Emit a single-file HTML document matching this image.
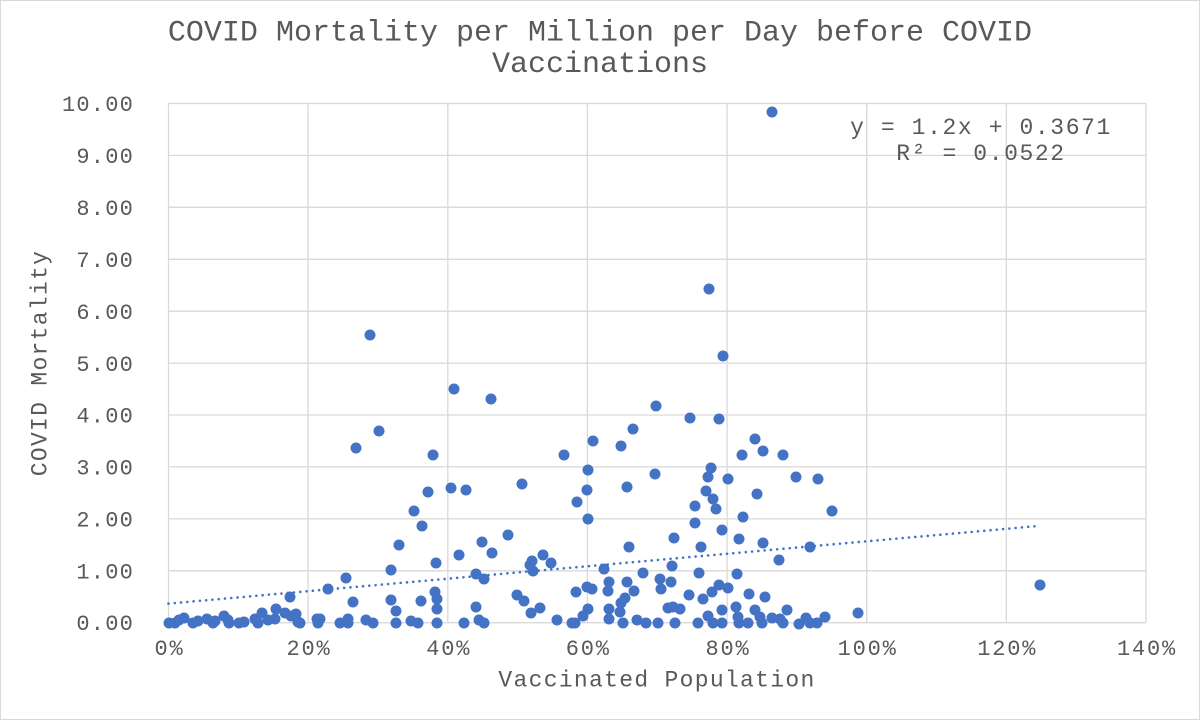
<!DOCTYPE html>
<html>
<head>
<meta charset="utf-8">
<style>
html,body{margin:0;padding:0;background:#fff;}
svg{display:block;}
text{font-family:"Liberation Mono","DejaVu Sans Mono",monospace;fill:#595959;}
</style>
</head>
<body>
<svg width="1200" height="720" viewBox="0 0 1200 720" xmlns="http://www.w3.org/2000/svg">
<rect x="0.5" y="0.5" width="1199" height="719" fill="#fff" stroke="#d9d9d9" stroke-width="1"/>
<!-- gridlines -->
<g stroke="#d9d9d9" stroke-width="1.3" fill="none">
<line x1="168.5" y1="103.5" x2="1146" y2="103.5"/>
<line x1="168.5" y1="155.4" x2="1146" y2="155.4"/>
<line x1="168.5" y1="207.3" x2="1146" y2="207.3"/>
<line x1="168.5" y1="259.3" x2="1146" y2="259.3"/>
<line x1="168.5" y1="311.2" x2="1146" y2="311.2"/>
<line x1="168.5" y1="363.1" x2="1146" y2="363.1"/>
<line x1="168.5" y1="415.0" x2="1146" y2="415.0"/>
<line x1="168.5" y1="466.9" x2="1146" y2="466.9"/>
<line x1="168.5" y1="518.9" x2="1146" y2="518.9"/>
<line x1="168.5" y1="570.8" x2="1146" y2="570.8"/>
<line x1="168.5" y1="622.7" x2="1146" y2="622.7"/>
<line x1="168.5" y1="103.5" x2="168.5" y2="622.7"/>
<line x1="308.1" y1="103.5" x2="308.1" y2="622.7"/>
<line x1="447.8" y1="103.5" x2="447.8" y2="622.7"/>
<line x1="587.4" y1="103.5" x2="587.4" y2="622.7"/>
<line x1="727.1" y1="103.5" x2="727.1" y2="622.7"/>
<line x1="866.7" y1="103.5" x2="866.7" y2="622.7"/>
<line x1="1006.3" y1="103.5" x2="1006.3" y2="622.7"/>
<line x1="1146" y1="103.5" x2="1146" y2="622.7"/>
</g>
<!-- title -->
<text x="600" y="40.5" font-size="30" text-anchor="middle">COVID Mortality per Million per Day before COVID</text>
<text x="600" y="72" font-size="30" text-anchor="middle">Vaccinations</text>
<!-- y ticks -->
<g font-size="22" letter-spacing="1.2" text-anchor="end">
<text x="134" y="111">10.00</text>
<text x="134" y="163">9.00</text>
<text x="134" y="215">8.00</text>
<text x="134" y="267">7.00</text>
<text x="134" y="319">6.00</text>
<text x="134" y="371">5.00</text>
<text x="134" y="422.5">4.00</text>
<text x="134" y="474.5">3.00</text>
<text x="134" y="526.5">2.00</text>
<text x="134" y="578.5">1.00</text>
<text x="134" y="630">0.00</text>
</g>
<!-- x ticks -->
<g font-size="22" letter-spacing="1.8" text-anchor="middle">
<text x="169.5" y="655">0%</text>
<text x="309" y="655">20%</text>
<text x="448.7" y="655">40%</text>
<text x="588.3" y="655">60%</text>
<text x="728" y="655">80%</text>
<text x="867.6" y="655">100%</text>
<text x="1007.2" y="655">120%</text>
<text x="1147" y="655">140%</text>
</g>
<!-- axis titles -->
<text x="657" y="686.5" font-size="23" letter-spacing="1.3" text-anchor="middle">Vaccinated Population</text>
<text transform="translate(46.5,363) rotate(-90)" x="0" y="0" font-size="23" letter-spacing="1.3" text-anchor="middle">COVID Mortality</text>
<!-- equation -->
<text x="981" y="134" font-size="23" letter-spacing="1.6" text-anchor="middle">y = 1.2x + 0.3671</text>
<text x="981" y="160" font-size="23" letter-spacing="1.6" text-anchor="middle">R² = 0.0522</text>
<!-- points -->
<g fill="#4472C4">
<circle cx="169" cy="623" r="5.5"/><circle cx="175" cy="623" r="5.5"/><circle cx="179" cy="620" r="5.5"/><circle cx="184" cy="618" r="5.5"/>
<circle cx="193" cy="623" r="5.5"/><circle cx="198" cy="621" r="5.5"/><circle cx="207" cy="619" r="5.5"/><circle cx="213" cy="623" r="5.5"/>
<circle cx="215" cy="621" r="5.5"/><circle cx="224" cy="616" r="5.5"/><circle cx="228" cy="620" r="5.5"/><circle cx="229" cy="623" r="5.5"/>
<circle cx="239" cy="623" r="5.5"/><circle cx="244" cy="622" r="5.5"/><circle cx="255" cy="619" r="5.5"/><circle cx="258" cy="623" r="5.5"/>
<circle cx="262" cy="613" r="5.5"/><circle cx="268" cy="620" r="5.5"/><circle cx="275" cy="619" r="5.5"/><circle cx="276" cy="609" r="5.5"/>
<circle cx="285" cy="613" r="5.5"/><circle cx="290" cy="597" r="5.5"/><circle cx="291" cy="616" r="5.5"/><circle cx="296" cy="614" r="5.5"/>
<circle cx="298" cy="622" r="5.5"/><circle cx="300" cy="623" r="5.5"/><circle cx="317" cy="619" r="5.5"/><circle cx="320" cy="619" r="5.5"/>
<circle cx="318" cy="623" r="5.5"/><circle cx="328" cy="589" r="5.5"/><circle cx="340" cy="623" r="5.5"/><circle cx="346" cy="578" r="5.5"/>
<circle cx="348" cy="619" r="5.5"/><circle cx="348" cy="623" r="5.5"/><circle cx="353" cy="602" r="5.5"/><circle cx="366" cy="620" r="5.5"/>
<circle cx="373" cy="623" r="5.5"/><circle cx="391" cy="570" r="5.5"/><circle cx="391" cy="600" r="5.5"/><circle cx="396" cy="611" r="5.5"/>
<circle cx="396" cy="623" r="5.5"/><circle cx="399" cy="545" r="5.5"/><circle cx="411" cy="621" r="5.5"/><circle cx="418" cy="623" r="5.5"/>
<circle cx="421" cy="601" r="5.5"/><circle cx="422" cy="526" r="5.5"/><circle cx="436" cy="563" r="5.5"/><circle cx="435" cy="592" r="5.5"/>
<circle cx="437" cy="599" r="5.5"/><circle cx="437" cy="609" r="5.5"/><circle cx="437" cy="623" r="5.5"/><circle cx="459" cy="555" r="5.5"/>
<circle cx="464" cy="623" r="5.5"/><circle cx="476" cy="607" r="5.5"/><circle cx="476" cy="574" r="5.5"/><circle cx="482" cy="542" r="5.5"/>
<circle cx="484" cy="579" r="5.5"/><circle cx="479" cy="620" r="5.5"/><circle cx="484" cy="623" r="5.5"/><circle cx="492" cy="553" r="5.5"/>
<circle cx="370" cy="335" r="5.5"/><circle cx="454" cy="389" r="5.5"/><circle cx="491" cy="399" r="5.5"/><circle cx="379" cy="431" r="5.5"/>
<circle cx="356" cy="448" r="5.5"/><circle cx="433" cy="455" r="5.5"/><circle cx="428" cy="492" r="5.5"/><circle cx="451" cy="488" r="5.5"/>
<circle cx="466" cy="490" r="5.5"/><circle cx="522" cy="484" r="5.5"/><circle cx="414" cy="511" r="5.5"/><circle cx="508" cy="535" r="5.5"/>
<circle cx="517" cy="595" r="5.5"/><circle cx="524" cy="601" r="5.5"/><circle cx="531" cy="613" r="5.5"/><circle cx="540" cy="608" r="5.5"/>
<circle cx="530" cy="565" r="5.5"/><circle cx="532" cy="561" r="5.5"/><circle cx="533" cy="571" r="5.5"/><circle cx="543" cy="555" r="5.5"/>
<circle cx="551" cy="563" r="5.5"/>
<circle cx="656" cy="406" r="5.5"/><circle cx="690" cy="418" r="5.5"/><circle cx="719" cy="419" r="5.5"/><circle cx="633" cy="429" r="5.5"/>
<circle cx="593" cy="441" r="5.5"/><circle cx="621" cy="446" r="5.5"/><circle cx="564" cy="455" r="5.5"/><circle cx="755" cy="439" r="5.5"/>
<circle cx="763" cy="451" r="5.5"/><circle cx="742" cy="455" r="5.5"/><circle cx="783" cy="455" r="5.5"/><circle cx="588" cy="470" r="5.5"/>
<circle cx="711" cy="468" r="5.5"/><circle cx="708" cy="477" r="5.5"/><circle cx="728" cy="479" r="5.5"/><circle cx="655" cy="474" r="5.5"/>
<circle cx="587" cy="490" r="5.5"/><circle cx="627" cy="487" r="5.5"/><circle cx="577" cy="502" r="5.5"/><circle cx="706" cy="491" r="5.5"/>
<circle cx="713" cy="499" r="5.5"/><circle cx="716" cy="509" r="5.5"/><circle cx="757" cy="494" r="5.5"/><circle cx="695" cy="506" r="5.5"/>
<circle cx="588" cy="519" r="5.5"/><circle cx="695" cy="523" r="5.5"/><circle cx="743" cy="517" r="5.5"/><circle cx="722" cy="530" r="5.5"/>
<circle cx="739" cy="539" r="5.5"/><circle cx="701" cy="547" r="5.5"/><circle cx="763" cy="543" r="5.5"/><circle cx="674" cy="538" r="5.5"/>
<circle cx="629" cy="547" r="5.5"/><circle cx="779" cy="560" r="5.5"/><circle cx="604" cy="569" r="5.5"/><circle cx="672" cy="566" r="5.5"/>
<circle cx="643" cy="573" r="5.5"/><circle cx="699" cy="573" r="5.5"/><circle cx="737" cy="574" r="5.5"/><circle cx="609" cy="582" r="5.5"/>
<circle cx="608" cy="591" r="5.5"/><circle cx="627" cy="582" r="5.5"/><circle cx="634" cy="591" r="5.5"/><circle cx="660" cy="579" r="5.5"/>
<circle cx="661" cy="589" r="5.5"/><circle cx="671" cy="582" r="5.5"/><circle cx="587" cy="587" r="5.5"/><circle cx="592" cy="589" r="5.5"/>
<circle cx="576" cy="592" r="5.5"/><circle cx="689" cy="595" r="5.5"/><circle cx="703" cy="599" r="5.5"/><circle cx="712" cy="592" r="5.5"/>
<circle cx="719" cy="585" r="5.5"/><circle cx="728" cy="588" r="5.5"/><circle cx="749" cy="594" r="5.5"/><circle cx="765" cy="597" r="5.5"/>
<circle cx="621" cy="603" r="5.5"/><circle cx="625" cy="598" r="5.5"/><circle cx="609" cy="609" r="5.5"/><circle cx="620" cy="612" r="5.5"/>
<circle cx="588" cy="609" r="5.5"/><circle cx="583" cy="616" r="5.5"/><circle cx="668" cy="608" r="5.5"/><circle cx="673" cy="607" r="5.5"/>
<circle cx="680" cy="609" r="5.5"/><circle cx="722" cy="610" r="5.5"/><circle cx="736" cy="607" r="5.5"/><circle cx="755" cy="610" r="5.5"/>
<circle cx="787" cy="610" r="5.5"/><circle cx="557" cy="620" r="5.5"/><circle cx="572" cy="623" r="5.5"/><circle cx="575" cy="623" r="5.5"/>
<circle cx="609" cy="619" r="5.5"/><circle cx="623" cy="623" r="5.5"/><circle cx="637" cy="620" r="5.5"/><circle cx="646" cy="623" r="5.5"/>
<circle cx="658" cy="623" r="5.5"/><circle cx="675" cy="623" r="5.5"/><circle cx="698" cy="623" r="5.5"/><circle cx="708" cy="616" r="5.5"/>
<circle cx="713" cy="623" r="5.5"/><circle cx="722" cy="623" r="5.5"/><circle cx="738" cy="617" r="5.5"/><circle cx="739" cy="623" r="5.5"/>
<circle cx="748" cy="623" r="5.5"/><circle cx="760" cy="617" r="5.5"/><circle cx="762" cy="623" r="5.5"/><circle cx="772" cy="618" r="5.5"/>
<circle cx="780" cy="619" r="5.5"/><circle cx="783" cy="623" r="5.5"/>
<circle cx="772" cy="112" r="5.5"/><circle cx="709" cy="289" r="5.5"/><circle cx="723" cy="356" r="5.5"/>
<circle cx="796" cy="477" r="5.5"/><circle cx="818" cy="479" r="5.5"/><circle cx="832" cy="511" r="5.5"/><circle cx="810" cy="547" r="5.5"/>
<circle cx="858" cy="613" r="5.5"/><circle cx="799" cy="624" r="5.5"/><circle cx="806" cy="618" r="5.5"/><circle cx="810" cy="623" r="5.5"/>
<circle cx="817" cy="623" r="5.5"/><circle cx="825" cy="617" r="5.5"/>
<circle cx="1040" cy="585" r="5.5"/>
</g>
<!-- trendline -->
<line x1="168.5" y1="603.6" x2="1040" y2="525.8" stroke="#4472C4" stroke-width="2.6" stroke-linecap="round" stroke-dasharray="0 6.3"/>
</svg>
</body>
</html>
